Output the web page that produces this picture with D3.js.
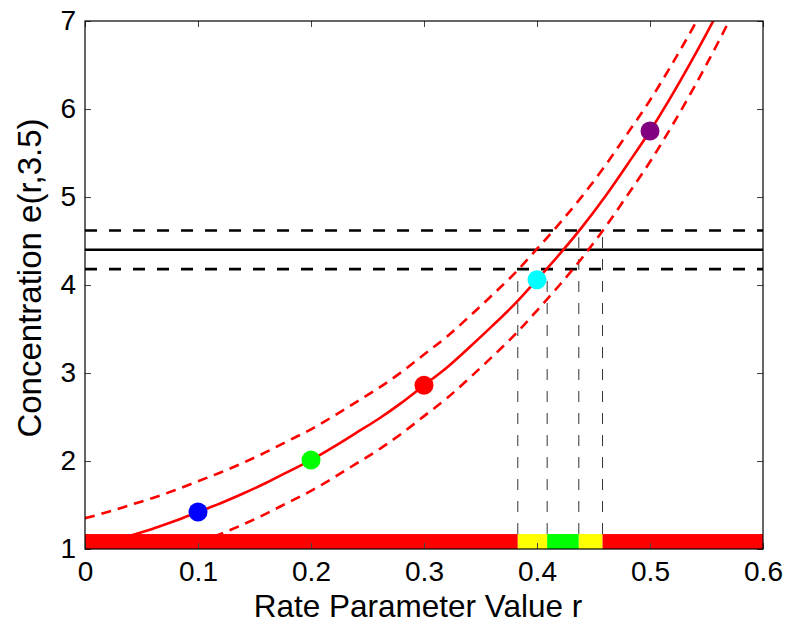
<!DOCTYPE html>
<html>
<head>
<meta charset="utf-8">
<script src="https://cdn.jsdelivr.net/npm/d3@7"></script>
<style>
  body { margin: 0; background: #fff; }
  svg { display: block; font-family: "Liberation Sans", Arial, sans-serif; }
</style>
</head>
<body>
<svg id="chart" width="788" height="623"></svg>
<script>
// ---- data ----
const rValues = [0, 0.02, 0.04, 0.06, 0.08, 0.10, 0.12, 0.14, 0.16, 0.18, 0.20, 0.22, 0.24, 0.26, 0.28, 0.30,
  0.32, 0.34, 0.36, 0.38, 0.40, 0.42, 0.44, 0.46, 0.48, 0.50, 0.52, 0.54, 0.56, 0.58, 0.60];
const concentration = [1.00, 1.07, 1.15, 1.23, 1.32, 1.42, 1.52, 1.63, 1.75, 1.88, 2.01, 2.16, 2.32, 2.48, 2.66, 2.86,
  3.06, 3.29, 3.53, 3.78, 4.06, 4.35, 4.66, 5.00, 5.37, 5.75, 6.17, 6.62, 7.10, 7.61, 8.17];
const upperBound = [1.35, 1.42, 1.50, 1.58, 1.67, 1.77, 1.87, 1.98, 2.10, 2.23, 2.36, 2.51, 2.67, 2.83, 3.01, 3.21,
  3.41, 3.64, 3.88, 4.13, 4.41, 4.70, 5.01, 5.35, 5.72, 6.10, 6.52, 6.97, 7.45, 7.96, 8.52];
const lowerBound = [0.65, 0.72, 0.80, 0.88, 0.97, 1.07, 1.17, 1.28, 1.40, 1.53, 1.66, 1.81, 1.97, 2.13, 2.31, 2.51,
  2.71, 2.94, 3.18, 3.43, 3.71, 4.00, 4.31, 4.65, 5.02, 5.40, 5.82, 6.27, 6.75, 7.26, 7.82];

const pointR = [0.1, 0.2, 0.3, 0.4, 0.5];
const pointE = [1.42, 2.01, 2.86, 4.06, 5.75];
const pointColors = ["#0000ff", "#00ff00", "#ff0000", "#00ffff", "#800080"];

const observed = 4.40;
const observedLow = 4.18;
const observedHigh = 4.62;

// intervals on the r axis: [start, end, colour]
const segStart = [0, 0.383, 0.409, 0.437, 0.458];
const segEnd   = [0.383, 0.409, 0.437, 0.458, 0.6];
const segColor = ["#ff0000", "#ffff00", "#00ff00", "#ffff00", "#ff0000"];
const barTop = 1.17;

// vertical guide lines: r position and height
const guideR = [0.383, 0.409, 0.437, 0.458];
const guideTop = [4.18, 4.18, 4.62, 4.62];

const xTicks = [0, 0.1, 0.2, 0.3, 0.4, 0.5, 0.6];
const yTicks = [1, 2, 3, 4, 5, 6, 7];

// ---- layout ----
const svg = d3.select("#chart");
const L = 85, R = 763, T = 21, B = 549;
const x = d3.scaleLinear().domain([0, 0.6]).range([L, R]);
const y = d3.scaleLinear().domain([1, 7]).range([B, T]);

svg.append("defs").append("clipPath").attr("id", "clip")
  .append("rect").attr("x", L).attr("y", T).attr("width", R - L).attr("height", B - T);

const plot = svg.append("g").attr("clip-path", "url(#clip)");

const line = d3.line().x(d => x(d[0])).y(d => y(d[1])).curve(d3.curveMonotoneX);

// horizontal observation lines
plot.append("line").attr("x1", L).attr("x2", R).attr("y1", y(observed)).attr("y2", y(observed))
  .attr("stroke", "#000").attr("stroke-width", 2.6);
[observedLow, observedHigh].forEach(v => {
  plot.append("line").attr("x1", L).attr("x2", R).attr("y1", y(v)).attr("y2", y(v))
    .attr("stroke", "#000").attr("stroke-width", 2.6).attr("stroke-dasharray", "12,12");
});

// vertical guides
guideR.forEach((r, i) => {
  plot.append("line").attr("x1", x(r)).attr("x2", x(r)).attr("y1", y(barTop)).attr("y2", y(guideTop[i]))
    .attr("stroke", "#333").attr("stroke-width", 1).attr("stroke-dasharray", "11,11");
});

// curves
plot.append("path").datum(rValues.map((r, i) => [r, upperBound[i]]))
  .attr("d", line).attr("fill", "none").attr("stroke", "#ff0000").attr("stroke-width", 2.6)
  .attr("stroke-dasharray", "10,7");
plot.append("path").datum(rValues.map((r, i) => [r, lowerBound[i]]))
  .attr("d", line).attr("fill", "none").attr("stroke", "#ff0000").attr("stroke-width", 2.6)
  .attr("stroke-dasharray", "10,7");
plot.append("path").datum(rValues.map((r, i) => [r, concentration[i]]))
  .attr("d", line).attr("fill", "none").attr("stroke", "#ff0000").attr("stroke-width", 2.6);

// colour bar
segStart.forEach((s, i) => {
  plot.append("rect").attr("x", x(s)).attr("y", y(barTop))
    .attr("width", x(segEnd[i]) - x(s)).attr("height", y(1) - y(barTop))
    .attr("fill", segColor[i]);
});

// points
pointR.forEach((r, i) => {
  plot.append("circle").attr("cx", x(r)).attr("cy", y(pointE[i])).attr("r", 9.5)
    .attr("fill", pointColors[i]);
});

// ---- axes ----
const tickLen = 6;
const axisBottom = d3.axisBottom(x).tickValues(xTicks).tickSize(-tickLen).tickPadding(12)
  .tickFormat(d => d === 0 ? "0" : d3.format(".1f")(d));
const axisTop = d3.axisTop(x).tickValues(xTicks).tickSize(-tickLen).tickFormat("");
const axisLeft = d3.axisLeft(y).tickValues(yTicks).tickSize(-tickLen).tickPadding(9).tickFormat(d3.format("d"));
const axisRight = d3.axisRight(y).tickValues(yTicks).tickSize(-tickLen).tickFormat("");

function style(g, fs) {
  g.select(".domain").remove();
  g.selectAll(".tick line").attr("stroke", "#444").attr("stroke-width", 1);
  g.selectAll("text").attr("font-size", fs).attr("fill", "#000")
    .attr("font-family", "'Liberation Sans', Arial, sans-serif");
}
svg.append("g").attr("transform", `translate(0,${B})`).call(axisBottom).call(g => style(g, 28));
svg.append("g").attr("transform", `translate(0,${T})`).call(axisTop).call(g => style(g, 28));
svg.append("g").attr("transform", `translate(${L},0)`).call(axisLeft).call(g => style(g, 28));
svg.append("g").attr("transform", `translate(${R},0)`).call(axisRight).call(g => style(g, 28));

// frame
svg.append("rect").attr("x", L).attr("y", T).attr("width", R - L).attr("height", B - T)
  .attr("fill", "none").attr("stroke", "#000").attr("stroke-width", 1.2);

// labels
svg.append("text").attr("x", 418).attr("y", 617).attr("text-anchor", "middle")
  .attr("font-size", 31.5).attr("fill", "#000").text("Rate Parameter Value r");
svg.append("text").attr("transform", `translate(41,278) rotate(-90)`).attr("text-anchor", "middle")
  .attr("font-size", 33).attr("fill", "#000").text("Concentration e(r,3.5)");
</script>
</body>
</html>
